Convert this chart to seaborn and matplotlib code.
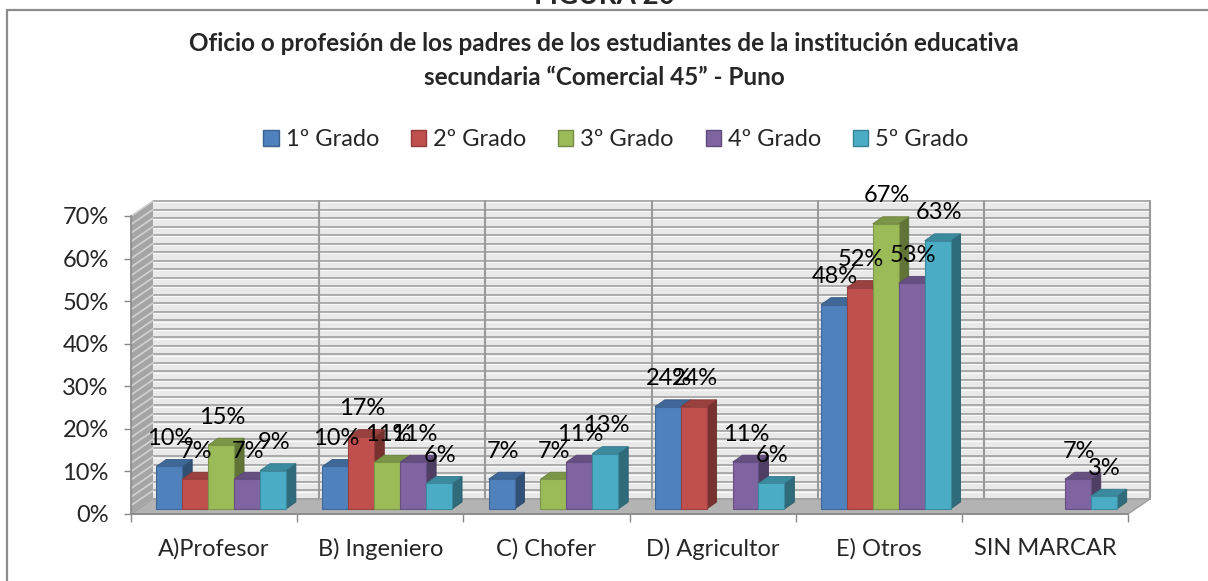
import numpy as np
import pandas as pd
import seaborn as sns
import matplotlib.pyplot as plt
from matplotlib.patches import Polygon, Rectangle
from matplotlib.lines import Line2D
from matplotlib.colors import to_rgb

# datos (porcentajes)
categorias = ["A)Profesor", "B) Ingeniero", "C) Chofer", "D) Agricultor", "E) Otros", "SIN MARCAR"]
grados = ["1º Grado", "2º Grado", "3º Grado", "4º Grado", "5º Grado"]
grado_1 = [10, 10, 7, 24, 48, np.nan]
grado_2 = [7, 17, np.nan, 24, 52, np.nan]
grado_3 = [15, 11, 7, np.nan, 67, np.nan]
grado_4 = [7, 11, 11, 11, 53, 7]
grado_5 = [9, 6, 13, 6, 63, 3]
ticks_y = [0, 10, 20, 30, 40, 50, 60, 70]
colores = ["#4F81BD", "#C0504D", "#9BBB59", "#8064A2", "#4BACC6"]

titulo = ("Oficio o profesión de los padres de los estudiantes de la institución educativa\n"
          "secundaria “Comercial 45” - Puno")

df = pd.DataFrame({"categoria": categorias, grados[0]: grado_1, grados[1]: grado_2,
                   grados[2]: grado_3, grados[3]: grado_4, grados[4]: grado_5})
df = df.melt(id_vars="categoria", var_name="grado", value_name="valor").dropna()

sns.set_theme(style="white")
plt.rcParams['font.family'] = ['Lato', 'DejaVu Sans']
FS = 17

W, H = 1208, 581
fig = plt.figure(figsize=(W / 100, H / 100), dpi=100)
ax = fig.add_axes([131 / W, (H - 514) / H, 997 / W, 298 / H])
ax.set_facecolor("none")

sns.barplot(data=df, x="categoria", y="valor", hue="grado", order=categorias,
            hue_order=grados, palette=colores, width=0.78, gap=0, saturation=1,
            linewidth=0.8, ax=ax)
ax.set_xlim(-0.5, 5.5)
ax.set_ylim(0, 70)

# pixeles -> unidades de datos
PX = 6 / 997
PY = 70 / 298
WX, WY = 22 * PX, 15 * PY     # profundidad de la pared
BX, BY = 7 * PX, 5 * PY       # posicion de las barras en el piso
DX, DY = 10 * PX, 7 * PY      # profundidad de cada barra

def oscuro(c, f):
    r, g, b = to_rgb(c)
    return (r * f, g * f, b * f)

# barras de seaborn (antes de agregar las paredes)
barras = sorted([p for p in ax.patches if isinstance(p, Rectangle)
                 and np.isfinite(p.get_height()) and p.get_height() > 0],
                key=lambda p: p.get_x())

# pared del fondo
ax.add_patch(Rectangle((-0.5 + WX, WY), 6, 70, fc="#e9e9e9", ec="none", zorder=0.5, clip_on=False))
# pared izquierda
ax.add_patch(Polygon([(-0.5, 0), (-0.5, 70), (-0.5 + WX, 70 + WY), (-0.5 + WX, WY)],
                     fc="#a5a5a5", ec="none", zorder=0.5, clip_on=False))
for g in np.arange(0, 71, 2):
    ax.plot([-0.5 + WX, 5.5 + WX], [g + WY, g + WY], color="#aaaaaa", lw=1.4, zorder=0.6, clip_on=False)
    ax.plot([-0.5 + WX, 5.5 + WX], [g + WY - 1.3 * PY] * 2, color="#fafafa", lw=0.8, zorder=0.6, clip_on=False)
    ax.plot([-0.5, -0.5 + WX], [g, g + WY], color="#d2d2d2", lw=1.2, zorder=0.6, clip_on=False)
for k in range(1, 7):
    ax.plot([-0.5 + k + WX] * 2, [WY, 70 + WY], color="#9a9a9a", lw=1.5, zorder=0.7, clip_on=False)
# piso
ax.add_patch(Polygon([(-0.5, 0), (5.5, 0), (5.5 + WX, WY), (-0.5 + WX, WY)],
                     fc="#b3b3b3", ec="#a0a0a0", lw=1, zorder=1, clip_on=False))

# barras 3D a partir de las barras de seaborn
for k, p in enumerate(barras):
    x0 = p.get_x() + BX
    w = p.get_width()
    h = p.get_height()
    fc = to_rgb(p.get_facecolor())
    p.set_x(x0)
    p.set_y(BY)
    p.set_edgecolor(oscuro(fc, 0.8))
    p.set_clip_on(False)
    z = 3 + k * 0.1
    p.set_zorder(z + 0.05)
    ax.add_patch(Polygon([(x0 + w, BY), (x0 + w + DX, BY + DY), (x0 + w + DX, BY + h + DY), (x0 + w, BY + h)],
                         fc=oscuro(fc, 0.62), ec=oscuro(fc, 0.55), lw=0.6, zorder=z, clip_on=False))
    ax.add_patch(Polygon([(x0, BY + h), (x0 + w, BY + h), (x0 + w + DX, BY + h + DY), (x0 + DX, BY + h + DY)],
                         fc=oscuro(fc, 0.8), ec=oscuro(fc, 0.7), lw=0.6, zorder=z, clip_on=False))
    ax.text(x0 + w / 2 + PX, BY + h + 28 * PY, f"{h:.0f}%", ha="center", va="center",
            fontsize=FS, color="black", zorder=20, clip_on=False)

# ejes
for lado in ["top", "right"]:
    ax.spines[lado].set_visible(False)
for lado in ["left", "bottom"]:
    ax.spines[lado].set_color("#888888")
    ax.spines[lado].set_linewidth(1.2)
    ax.spines[lado].set_zorder(2)
ax.set_yticks(ticks_y)
ax.set_yticklabels([f"{t}%" for t in ticks_y])
ax.set_xticks(range(len(categorias)))
ax.set_xticklabels(categorias)
ax.set_xticks(np.arange(-0.5, 6, 1), minor=True)
ax.tick_params(axis="y", length=5, width=1, color="#888888", pad=11, labelsize=FS, left=True)
ax.tick_params(axis="x", which="major", length=0, pad=17, labelsize=FS)
ax.tick_params(axis="x", which="minor", length=6, width=1, color="#888888", bottom=True)
ax.set_xlabel("")
ax.set_ylabel("")

# leyenda
sns.move_legend(ax, loc="center", bbox_to_anchor=(616 / W, 1 - 140 / H), bbox_transform=fig.transFigure,
                ncol=5, frameon=False, title=None, fontsize=FS, handlelength=0.64, handleheight=0.64,
                handletextpad=0.3, columnspacing=1.35)
for hnd, c in zip(ax.get_legend().legend_handles, colores):
    hnd.set_facecolor(c)
    hnd.set_edgecolor(oscuro(c, 0.75))
    hnd.set_linewidth(1)

# titulos y marco
fig.text(0.5, 1 - 60.5 / H, titulo, ha="center", va="center", fontsize=17.5, fontweight="bold",
         linespacing=1.55)
fig.text(604 / W, 1 - 4 / H, "FIGURA 20", ha="center", va="baseline", fontsize=20, fontweight="bold")
fig.add_artist(Line2D([7 / W, 1], [1 - 10 / H, 1 - 10 / H], color="#8c8c8c", lw=1.6))
fig.add_artist(Line2D([7 / W, 7 / W], [0, 1 - 10 / H], color="#8c8c8c", lw=1.6))

fig.savefig("out.png", dpi=100)
